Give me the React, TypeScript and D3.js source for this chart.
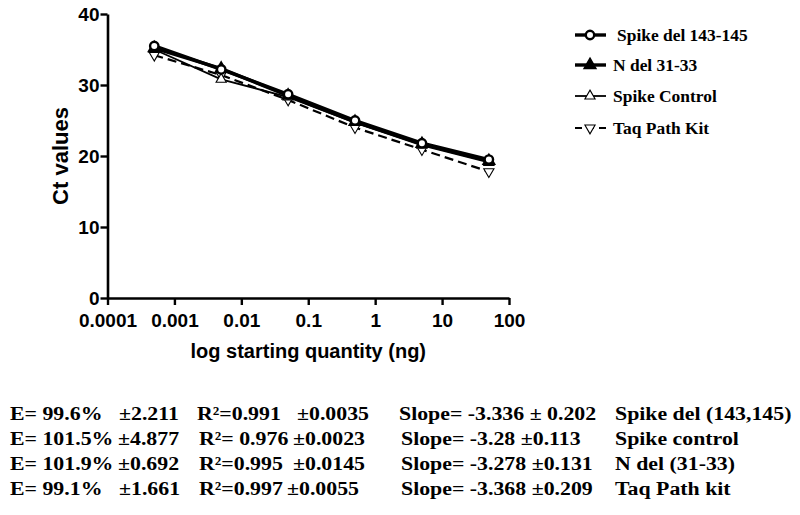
import { useEffect, useRef } from "react";
import * as d3 from "d3";

// starting quantities (ng)
const quantities = [0.0005, 0.005, 0.05, 0.5, 5, 50];

// Ct values per assay
const spikeDel = [35.5, 32.2, 28.7, 25.0, 21.8, 19.5];
const nDel = [35.2, 32.3, 28.5, 24.8, 21.7, 19.3];
const spikeControl = [35.0, 30.8, 28.3, 24.7, 21.5, 19.1];
const taqPath = [34.2, 31.4, 27.9, 24.0, 20.9, 17.8];

const seriesNames = ["Spike del 143-145", "N del 31-33", "Spike Control", "Taq Path Kit"];

const xTicks = [0.0001, 0.001, 0.01, 0.1, 1, 10, 100];
const xTickLabels = ["0.0001", "0.001", "0.01", "0.1", "1", "10", "100"];
const yTicks = [0, 10, 20, 30, 40];

// statistics table below the chart
const effText = ["E= 99.6%", "E= 101.5%", "E= 101.9%", "E= 99.1%"];
const effErrText = ["±2.211", "±4.877", "±0.692", "±1.661"];
const r2Text = ["R²=0.991", "R²= 0.976", "R²=0.995", "R²=0.997"];
const r2ErrText = ["±0.0035", "±0.0023", "±0.0145", "±0.0055"];
const slopeText = [
  "Slope= -3.336 ± 0.202",
  "Slope= -3.28 ±0.113",
  "Slope= -3.278 ±0.131",
  "Slope= -3.368 ±0.209",
];
const assayText = ["Spike del (143,145)", "Spike control", "N del (31-33)", "Taq Path kit"];

const App = () => {
  const svgRef = useRef<SVGSVGElement>(null);
  const width = 800;
  const height = 515;

  useEffect(() => {
    const svg = d3.select(svgRef.current);
    svg.selectAll("*").remove();

    const left = 107.5;
    const right = 509;
    const top = 14;
    const bottom = 298;

    const xScale = d3.scaleLog().domain([0.0001, 100]).range([left, right]);
    const yScale = d3.scaleLinear().domain([0, 40]).range([bottom, top]);

    const sans = "Liberation Sans, Arial, sans-serif";
    const serif = "Liberation Serif, Times New Roman, serif";

    // axes
    const xAxis = svg
      .append("g")
      .attr("transform", `translate(0,${bottom})`)
      .call(
        d3
          .axisBottom(xScale)
          .tickValues(xTicks)
          .tickFormat((d, i) => xTickLabels[i])
          .tickSize(7)
          .tickSizeOuter(0)
      );
    const yAxis = svg
      .append("g")
      .attr("transform", `translate(${left},0)`)
      .call(d3.axisLeft(yScale).tickValues(yTicks).tickSize(7).tickSizeOuter(0));

    [xAxis, yAxis].forEach((ax) => {
      ax.select(".domain").attr("stroke", "#000").attr("stroke-width", 2.6);
      ax.selectAll(".tick line").attr("stroke", "#000").attr("stroke-width", 2.4);
      ax.selectAll(".tick text")
        .attr("fill", "#000")
        .style("font-family", sans)
        .style("font-weight", "bold")
        .style("font-size", "19px");
    });
    xAxis.selectAll(".tick text").attr("y", 16);
    yAxis.selectAll(".tick text").attr("x", -8);

    // axis titles
    svg
      .append("text")
      .attr("x", (left + right) / 2)
      .attr("y", 358)
      .attr("text-anchor", "middle")
      .style("font-family", sans)
      .style("font-weight", "bold")
      .style("font-size", "20px")
      .text("log starting quantity (ng)");

    svg
      .append("text")
      .attr("transform", `translate(68,${(top + bottom) / 2}) rotate(-90)`)
      .attr("text-anchor", "middle")
      .style("font-family", sans)
      .style("font-weight", "bold")
      .style("font-size", "22px")
      .text("Ct values");

    const series = [
      { values: spikeDel, width: 3.4, dash: null, marker: "circle" },
      { values: nDel, width: 3.4, dash: null, marker: "triFilled" },
      { values: spikeControl, width: 1.8, dash: null, marker: "triOpen" },
      { values: taqPath, width: 2.2, dash: "9,5", marker: "triDown" },
    ];

    const drawMarker = (g, kind, cx, cy) => {
      if (kind === "circle") {
        g.append("circle")
          .attr("cx", cx)
          .attr("cy", cy)
          .attr("r", 4.2)
          .attr("fill", "#fff")
          .attr("stroke", "#000")
          .attr("stroke-width", 2.4);
      } else {
        const sym = d3.symbol().type(d3.symbolTriangle).size(kind === "triFilled" ? 60 : 45);
        g.append("path")
          .attr("d", sym())
          .attr(
            "transform",
            `translate(${cx},${cy})${kind === "triDown" ? " rotate(180)" : ""}`
          )
          .attr("fill", kind === "triFilled" ? "#000" : "#fff")
          .attr("stroke", "#000")
          .attr("stroke-width", kind === "triFilled" ? 1.5 : 1.1);
      }
    };

    const line = d3
      .line<number>()
      .x((d, i) => xScale(quantities[i]))
      .y((d) => yScale(d));

    // dashed and thin series first, heavy lines on top
    const order = [3, 2, 1, 0];
    order.forEach((k) => {
      const s = series[k];
      svg
        .append("path")
        .attr("d", line(s.values))
        .attr("fill", "none")
        .attr("stroke", "#000")
        .attr("stroke-width", s.width)
        .attr("stroke-dasharray", s.dash);
    });
    order.forEach((k) => {
      const s = series[k];
      s.values.forEach((v, i) => drawMarker(svg, s.marker, xScale(quantities[i]), yScale(v)));
    });

    // legend
    const legendRows = [35, 65, 96, 128];
    seriesNames.forEach((name, i) => {
      const s = series[i];
      const y = legendRows[i];
      svg
        .append("line")
        .attr("x1", 575)
        .attr("x2", 606)
        .attr("y1", y)
        .attr("y2", y)
        .attr("stroke", "#000")
        .attr("stroke-width", s.width)
        .attr("stroke-dasharray", s.dash ? "7,5" : null);
      drawMarker(svg, s.marker, 590, y);
      svg
        .append("text")
        .attr("transform", `translate(${i === 0 ? 617 : 613},${y + 5.5}) scale(1.09,1)`)
        .style("font-family", serif)
        .style("font-weight", "bold")
        .style("font-size", "16px")
        .text(name);
    });

    // statistics table
    const colX = [
      [10, 119, 197, 297, 399, 615],
      [10, 118, 199, 293, 401, 615],
      [10, 118, 199, 293, 401, 615],
      [10, 119, 199, 287, 401, 615],
    ];
    const rowY = [420, 445, 470, 495];
    rowY.forEach((y, r) => {
      const cells = [effText[r], effErrText[r], r2Text[r], r2ErrText[r], slopeText[r], assayText[r]];
      cells.forEach((txt, c) => {
        svg
          .append("text")
          .attr("transform", `translate(${colX[r][c]},${y}) scale(1.12,1)`)
          .style("font-family", serif)
          .style("font-weight", "bold")
          .style("font-size", "19.5px")
          .text(txt);
      });
    });
  }, []);

  return (
    <svg
      ref={svgRef}
      width={width}
      height={height}
      style={{ position: "absolute", left: 0, top: 0, background: "#fff" }}
    ></svg>
  );
};

export default App;
